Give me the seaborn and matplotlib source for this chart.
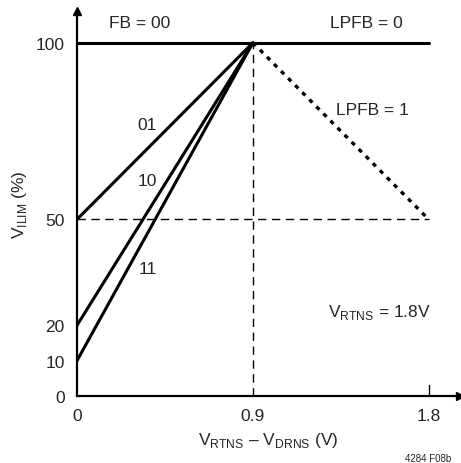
import matplotlib
matplotlib.use("Agg")
import matplotlib.pyplot as plt
import seaborn as sns
import pandas as pd
from matplotlib import font_manager

sns.set_style("white")
fams = [f.name for f in font_manager.fontManager.ttflist]
fam = "Liberation Sans Narrow" if "Liberation Sans Narrow" in fams else "Liberation Sans"
plt.rcParams['font.family'] = [fam, 'DejaVu Sans']
plt.rcParams['mathtext.fontset'] = 'custom'
plt.rcParams['mathtext.rm'] = fam

# data
x_fb00 = [0, 1.8]; y_fb00 = [100, 100]
x_01 = [0, 0.9]; y_01 = [50, 100]
x_10 = [0, 0.9]; y_10 = [20, 100]
x_11 = [0, 0.9]; y_11 = [10, 100]
x_lpfb1 = [0.9, 1.8]; y_lpfb1 = [100, 50]
xticks = [0, 0.9, 1.8]; xticklabels = ["0", "0.9", "1.8"]
yticks = [0, 10, 20, 50, 100]; yticklabels = ["0", "10", "20", "50", "100"]

fig = plt.figure(figsize=(4.61, 4.64), dpi=100)
ax = fig.add_axes([77/461, (464-397)/464, (460-77)/461, (397-12)/464])
ax.set_xlim(0, 1.96)
ax.set_ylim(0, 109)

# reference dashed lines
ax.plot([0.9, 0.9], [0, 100], color="black", lw=1, ls=(0, (6, 4)))
ax.plot([0, 1.8], [50, 50], color="black", lw=1, ls=(0, (6, 4)))

for xs, ys in [(x_fb00, y_fb00), (x_01, y_01), (x_10, y_10), (x_11, y_11)]:
    sns.lineplot(x=xs, y=ys, ax=ax, color="black", lw=2.2, estimator=None, sort=False)
sns.lineplot(x=x_lpfb1, y=y_lpfb1, ax=ax, color="black", lw=2.4, estimator=None,
             sort=False, linestyle=(0, (1.3, 1.7)))

for s in ["top", "right"]:
    ax.spines[s].set_visible(False)
for s in ["left", "bottom"]:
    ax.spines[s].set_linewidth(1.6)
    ax.spines[s].set_color("black")
ax.plot(1, 0, ">k", transform=ax.transAxes, clip_on=False, ms=6)
ax.plot(0, 1, "^k", transform=ax.transAxes, clip_on=False, ms=6)

ax.set_xticks(xticks)
ax.set_xticklabels(xticklabels, fontsize=12.5)
ax.set_yticks(yticks)
ax.set_yticklabels(yticklabels, fontsize=12.5)
ax.tick_params(axis='x', length=0, pad=9)
ax.tick_params(axis='y', length=0, pad=9)
ax.plot([1.8, 1.8], [0, 3], color="black", lw=1)

ax.set_xlabel(r"V$_{\mathregular{RTNS}}$ – V$_{\mathregular{DRNS}}$ (V)", fontsize=12.5, labelpad=5)
ax.set_ylabel(r"V$_{\mathregular{ILIM}}$ (%)", fontsize=12.5, labelpad=5)

ax.text(0.32, 103.5, "FB = 00", fontsize=12.5, ha="center", va="bottom")
ax.text(1.48, 103.5, "LPFB = 0", fontsize=12.5, ha="center", va="bottom")
ax.text(1.51, 81, "LPFB = 1", fontsize=12.5, ha="center", va="center")
ax.text(0.36, 77, "01", fontsize=12.5, ha="center", va="center")
ax.text(0.36, 61, "10", fontsize=12.5, ha="center", va="center")
ax.text(0.36, 36, "11", fontsize=12.5, ha="center", va="center")
ax.text(1.55, 24, r"V$_{\mathregular{RTNS}}$ = 1.8V", fontsize=12.5, ha="center", va="center")
fig.text(428/461, 1 - 459/464, "4284 F08b", fontsize=7, ha="center", va="center")

fig.savefig("out.png", dpi=100)
